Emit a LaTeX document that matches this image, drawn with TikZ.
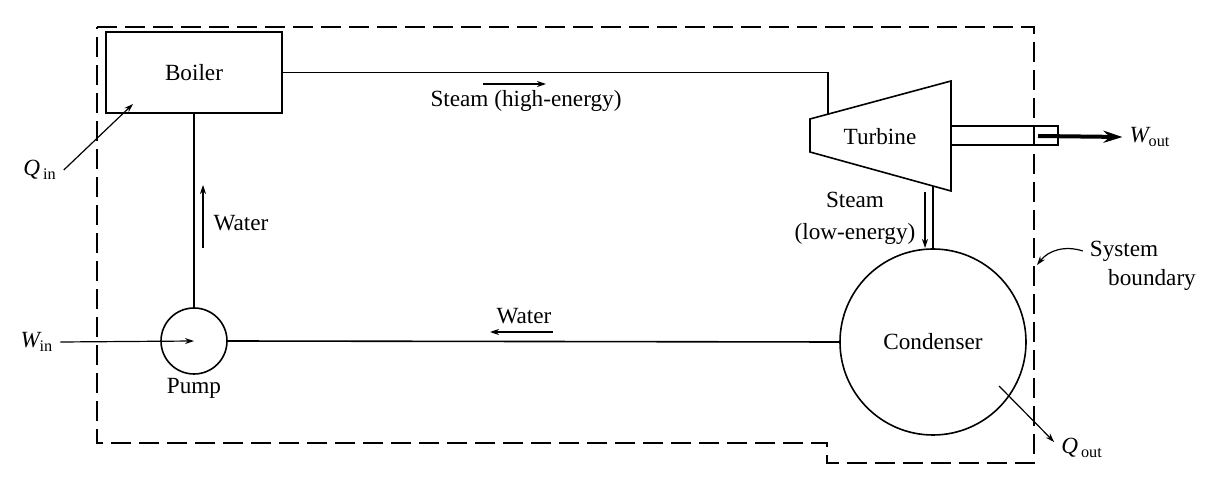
\documentclass[tikz,border=0pt]{standalone}
\usepackage{fontspec}
\setmainfont{Liberation Serif}
\usetikzlibrary{calc, arrows.meta, positioning}

\newcommand{\flowq}[3][0pt]{\textit{#2}\kern#1\textsubscript{#3}}

\begin{document}
\begin{tikzpicture}[x=0.5pt, y=-0.5pt, >={Stealth[length=4.5pt, width=3pt]},
    every node/.style={font=\fontsize{11.6}{14}\selectfont},
    unit/.style={draw, line width=0.8pt, inner sep=0pt},
    pipe/.style={line width=0.8pt},
    flow/.style={->, line width=0.6pt}]
    \useasboundingbox (0,0) rectangle (1231,496);

    % System Boundary
    \draw[line width=1pt, dash pattern=on 10pt off 4pt]
        (97,27) -- (1034,27) -- (1034,463) -- (827,463) -- (827,443) -- (97,443) -- cycle;

    % Boiler and Pump
    \node[unit, minimum width=88pt, minimum height=40.5pt] (boiler) at (194,72.5) {Boiler};
    \node[unit, circle, minimum size=33pt] (pump) at (194,341) {};
    \node (pumplabel) at (194,388) {Pump};

    % Turbine
    \coordinate (T1) at (810,119);
    \coordinate (T2) at (951,81);
    \coordinate (T3) at (951,191);
    \coordinate (T4) at (810,152);
    \draw[pipe] (T1) -- (T2) -- (T3) -- (T4) -- cycle;
    \node (turbine) at (880,137) {Turbine};
    \coordinate (hpin) at ($(T1)!0.128!(T2)$);
    \coordinate (lpout) at ($(T4)!0.872!(T3)$);

    % Shaft
    \draw[pipe] (951,126) rectangle (1058,145);
    \draw[pipe] (1034,126) -- (1034,145);

    % Condenser
    \node[unit, circle, minimum size=93pt] (condenser) at (933,342) {Condenser};

    % Pipes
    \draw[pipe] (boiler.east) -| (hpin);
    \draw[pipe] (lpout) -- (condenser.north);
    \draw[pipe] (pump.east) -- (condenser.west);
    \draw[pipe] (pump.north) -- (boiler.south);

    % Flow Labels
    \node (hplabel) at (526,101) {Steam (high-energy)};
    \coordinate (hpa) at (483,84);
    \coordinate (hpb) at (546,84);
    \draw[flow] (hpa) -- (hpb);

    \node[align=center, font=\fontsize{11.6}{16}\selectfont] (lplabel) at (855,218) {Steam\\(low-energy)};
    \coordinate (lpa) at (925,192);
    \coordinate (lpb) at (925,248);
    \draw[flow] (lpa) -- (lpb);

    \node (wleft) at (524,316) {Water};
    \coordinate (wla) at (553,332);
    \coordinate (wlb) at (490,332);
    \draw[flow] (wla) -- (wlb);

    \node (wup) at (241,223) {Water};
    \coordinate (wua) at (203,248);
    \coordinate (wub) at (203,185);
    \draw[flow] (wua) -- (wub);

    % Heat and Work
    \node (qin) at (40,170) {\flowq[1.5pt]{Q}{in}};
    \coordinate (qintip) at (133,104);
    \draw[flow] (qin.east) -- (qintip);

    \node (win) at (37,342) {\flowq[-1pt]{W}{in}};
    \draw[flow] (win.east) -- (pump.center);

    \node (qout) at (1082,448) {\flowq[1.5pt]{Q}{out}};
    \coordinate (qoutstart) at (999,386);
    \draw[flow] (qoutstart) -- ([yshift=3pt]qout.west);

    \node (wout) at (1150,137) {\flowq[-1pt]{W}{out}};
    \coordinate (shaftout) at (1038,136);
    \draw[->, line width=2pt, >={Stealth[length=9.5pt, width=6pt]}] (shaftout) -- (wout.west);

    % System Boundary Label
    \node (sys) at (1124,251) {System};
    \node (bnd) at (1152,280) {boundary};
    \coordinate (sysb) at (1037,265);
    \draw[flow] (sys.west) to[bend right=35] (sysb);
\end{tikzpicture}
\end{document}
